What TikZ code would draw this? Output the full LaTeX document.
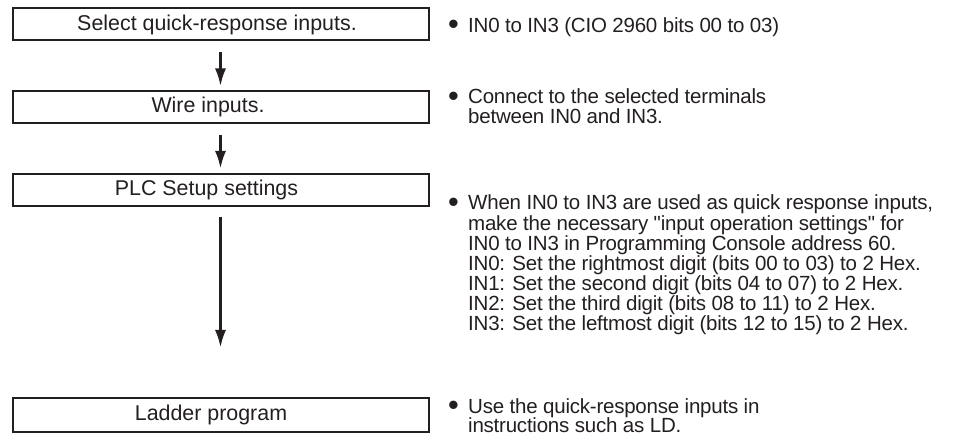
\documentclass[tikz,border=0pt]{standalone}
\usepackage{fontspec}
\usepackage{graphicx}
\setmainfont{Liberation Sans}
\newfontfamily\rfont[LetterSpace=-1.1]{Liberation Sans}
\usetikzlibrary{arrows.meta}
\definecolor{ink}{HTML}{231F20}
\newcommand{\bul}{\makebox[20pt][l]{\raisebox{-0.1em}{\scalebox{1.5}{•}}}}
\newcommand{\ind}{\hspace*{20pt}}
\tikzset{
  stepbox/.style={draw=ink, line width=2pt, minimum width=416pt, minimum height=32pt,
    inner sep=0pt, outer sep=0pt, text=ink, font=\fontsize{21.4}{24}\selectfont},
  flow/.style={draw=ink, line width=3pt, -{Latex[length=18pt,width=11pt]}},
  note/.style={anchor=base west, inner sep=0pt, text=ink,
    font=\rfont\fontsize{20.5}{18.4}\selectfont},
  loose/.style={font=\rfont\fontsize{20.5}{19.4}\selectfont}
}
\begin{document}
\begin{tikzpicture}[x=1pt,y=-1pt]
\useasboundingbox (0,0) rectangle (972,443);
\node[stepbox] (b1) at (220.5,24.5) {Select quick-response inputs.\hspace*{7pt}};
\node[stepbox] (b2) at (220.5,107) {Wire inputs.\hspace*{25pt}};
\node[stepbox] (b3) at (220.5,190) {PLC Setup settings\hspace*{28pt}};
\node[stepbox, minimum height=34pt] (b4) at (220.5,415) {Ladder program\hspace*{19pt}};
\coordinate (e3) at (220.5,348);
\draw[flow, shorten <=12pt, shorten >=4.5pt] (b1) -- (b2);
\draw[flow, shorten <=12pt, shorten >=5pt] (b2) -- (b3);
\draw[flow, shorten <=11pt] (b3) -- (e3);
\node[note] (t1) at (448,32.5) {\vtop{\hbox{\bul IN0 to IN3 (CIO 2960 bits 00 to 03)}}};
\node[note, loose] (t2) at (448,104) {\vtop{\hbox{\bul Connect to the selected terminals}\hbox{\ind between IN0 and IN3.}}};
\node[note] (t3) at (448,210) {\vtop{%
  \hbox{\bul When IN0 to IN3 are used as quick response inputs,}%
  \hbox{\ind make the necessary "input operation settings" for}%
  \hbox{\ind IN0 to IN3 in Programming Console address 60.}%
  \hbox{\ind IN0: Set the rightmost digit (bits 00 to 03) to 2 Hex.}%
  \hbox{\ind IN1: Set the second digit (bits 04 to 07) to 2 Hex.}%
  \hbox{\ind IN2: Set the third digit (bits 08 to 11) to 2 Hex.}%
  \hbox{\ind IN3: Set the leftmost digit (bits 12 to 15) to 2 Hex.}}};
\node[note, loose] (t4) at (448,413.5) {\vtop{\hbox{\bul Use the quick-response inputs in}\hbox{\ind instructions such as LD.}}};
\end{tikzpicture}
\end{document}
